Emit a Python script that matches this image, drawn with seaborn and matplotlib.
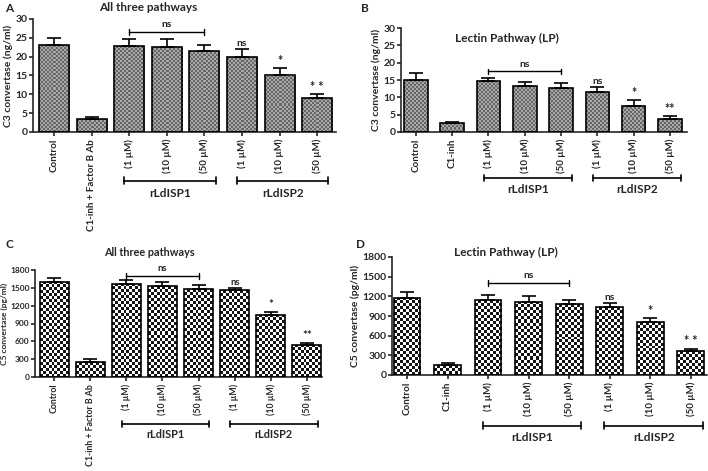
import numpy as np
import pandas as pd
import matplotlib
matplotlib.use("Agg")
import matplotlib.pyplot as plt
import seaborn as sns
from matplotlib.transforms import blended_transform_factory

sns.set_style("ticks")
plt.rcParams['font.family'] = ['Lato', 'DejaVu Sans']
plt.rcParams['font.weight'] = 'bold'

# ---------------- data ----------------
categories = ["Control", "C1-inh", "ISP1_1", "ISP1_10", "ISP1_50", "ISP2_1", "ISP2_10", "ISP2_50"]
labels_all = ["Control", "C1-inh + Factor B Ab", "(1 µM)", "(10 µM)", "(50 µM)", "(1 µM)", "(10 µM)", "(50 µM)"]
labels_lp = ["Control", "C1-inh", "(1 µM)", "(10 µM)", "(50 µM)", "(1 µM)", "(10 µM)", "(50 µM)"]
groups = ["rLdISP1", "rLdISP2"]
group_members = [[2, 3, 4], [5, 6, 7]]

a_mean = [23.0, 3.5, 22.8, 22.6, 21.6, 20.0, 15.0, 9.0]
a_err = [2.0, 0.5, 2.0, 2.0, 1.5, 2.0, 2.0, 1.0]
b_mean = [15.0, 2.5, 14.7, 13.3, 12.6, 11.5, 7.6, 3.8]
b_err = [2.0, 0.5, 1.0, 1.2, 1.5, 1.5, 1.5, 0.7]
c_mean = [1600, 250, 1570, 1530, 1480, 1460, 1050, 540]
c_err = [60, 50, 60, 60, 60, 40, 50, 40]
d_mean = [1180, 160, 1140, 1115, 1080, 1030, 805, 365]
d_err = [80, 30, 80, 85, 70, 70, 60, 35]

sig_a = ["", "", "", "", "", "ns", "*", "* *"]
sig_b = ["", "", "", "", "", "ns", "*", "**"]
sig_c = ["", "", "", "", "", "ns", "*", "**"]
sig_d = ["", "", "", "", "", "ns", "*", "* *"]

fig = plt.figure(figsize=(7.08, 4.71), dpi=100)
W, H = 708, 471


def axes_px(left, right, top, bottom):
    return fig.add_axes([left / W, 1 - bottom / H, (right - left) / W, (bottom - top) / H])


def checker_fill(ax, cell_px, c1, c2):
    fig.canvas.draw()
    for p in list(ax.patches):
        x0, y0 = p.get_x(), p.get_y()
        x1, y1 = x0 + p.get_width(), y0 + p.get_height()
        (px0, py0), (px1, py1) = ax.transData.transform([(x0, y0), (x1, y1)])
        nx = max(1, int(round(abs(px1 - px0) / cell_px)))
        ny = max(1, int(round(abs(py1 - py0) / cell_px)))
        arr = (np.add.outer(np.arange(ny), np.arange(nx)) % 2).astype(float)
        rgb = np.where(arr[..., None] > 0, np.array(c1), np.array(c2))
        im = ax.imshow(rgb, extent=(x0, x1, y0, y1), aspect='auto',
                       interpolation='nearest', zorder=2)
        im.set_clip_path(p)
        p.set_facecolor('none')
        p.set_zorder(3)


def panel(ax, mean, err, labels, sig, ymax, ystep, ylabel, title, title_pos,
          xlim, width, bracket_y, label_y, ns_y, c1, c2, cell, unit_off, fs, yfs):
    df = pd.DataFrame({"cat": categories, "val": mean})
    sns.barplot(data=df, x="cat", y="val", order=categories, ax=ax, width=width,
                color="white", edgecolor="black", linewidth=1.2, errorbar=None)
    ax.set_xlim(*xlim)
    ax.set_ylim(0, ymax)
    checker_fill(ax, cell, c1, c2)
    ax.set_xlim(*xlim)
    ax.set_ylim(0, ymax)
    xs = np.arange(len(categories))
    ax.errorbar(xs, mean, yerr=[np.zeros(len(err)), err], fmt='none',
                ecolor='black', elinewidth=1.2, capsize=5, capthick=1.2, zorder=4)
    ax.set_yticks(np.arange(0, ymax + 1e-9, ystep))
    ax.set_xticks(xs)
    ax.set_xticklabels(labels, rotation=90, fontsize=fs, fontweight='bold')
    ax.tick_params(axis='y', labelsize=yfs, width=1.2, length=3, pad=1)
    ax.tick_params(axis='x', width=1.2, length=3, pad=2)
    for lab in ax.get_yticklabels():
        lab.set_fontweight('bold')
    ax.set_xlabel("")
    ax.set_ylabel(ylabel, fontsize=yfs, fontweight='bold', labelpad=1.5)
    for s in ['left', 'bottom']:
        ax.spines[s].set_linewidth(1.2)
    sns.despine(ax=ax)
    ax.text(title_pos[0], title_pos[1], title, transform=ax.transAxes, ha='center',
            va='center', fontsize=fs + 1.5, fontweight='bold')
    # significance
    for i, s in enumerate(sig):
        if s:
            ax.text(xs[i], mean[i] + err[i] + unit_off, s, ha='center', va='bottom',
                    fontsize=fs + (0.5 if s == "ns" else 2), fontweight='bold')
    # ns bracket over rLdISP1
    ax.plot([xs[2], xs[4]], [ns_y, ns_y], color='black', lw=1.0, clip_on=False)
    tick = ymax * 0.025
    for xx in (xs[2], xs[4]):
        ax.plot([xx, xx], [ns_y - tick, ns_y + tick], color='black', lw=1.0, clip_on=False)
    ax.text((xs[2] + xs[4]) / 2, ns_y + tick, "ns", ha='center', va='bottom',
            fontsize=fs + 0.5, fontweight='bold')
    # group brackets
    tr = blended_transform_factory(ax.transData, ax.transAxes)
    for g, mem in zip(groups, group_members):
        xa, xb = xs[mem[0]] - 0.13, xs[mem[-1]] + 0.3
        ax.plot([xa, xb], [bracket_y, bracket_y], color='black', lw=1.2,
                transform=tr, clip_on=False)
        for xx in (xa, xb):
            ax.plot([xx, xx], [bracket_y - 0.03, bracket_y + 0.03], color='black',
                    lw=1.2, transform=tr, clip_on=False)
        ax.text((xa + xb) / 2, label_y, g, transform=tr, ha='center', va='center',
                fontsize=fs + 1.5, fontweight='bold')


gray1, gray2 = (0.40, 0.40, 0.40), (0.66, 0.66, 0.66)
blk, wht = (0.08, 0.08, 0.08), (1.0, 1.0, 1.0)

axA = axes_px(33, 336, 19, 132)
panel(axA, a_mean, a_err, labels_all, sig_a, 30, 5, "C3 convertase (ng/ml)",
      "All three pathways", (0.38, 1.1), (-0.56, 7.5), 0.8, -0.43, -0.54, 26.5,
      gray1, gray2, 2.0, 0.3, 7, 7.5)

axB = axes_px(401, 687, 28, 132)
panel(axB, b_mean, b_err, labels_lp, sig_b, 30, 5, "C3 convertase (ng/ml)",
      "Lectin Pathway (LP)", (0.37, 0.9), (-0.41, 7.47), 0.65, -0.44, -0.55, 17.5,
      gray1, gray2, 2.0, 0.3, 7, 7.5)

axC = axes_px(35, 322, 270, 377)
panel(axC, c_mean, c_err, labels_all, sig_c, 1800, 300, "C5 convertase (pg/ml)",
      "All three pathways", (0.4, 1.16), (-0.53, 7.42), 0.8, -0.44, -0.54, 1700,
      blk, wht, 3.0, 20, 6.3, 6.0)

axD = axes_px(392, 707, 257, 375)
panel(axD, d_mean, d_err, labels_lp, sig_d, 1800, 300, "C5 convertase (pg/ml)",
      "Lectin Pathway (LP)", (0.36, 1.04), (-0.37, 7.4), 0.66, -0.43, -0.53, 1400,
      blk, wht, 3.0, 20, 7, 7.5)

for lbl, (x, y) in zip("ABCD", [(5, 8), (361, 8), (5, 245), (356, 245)]):
    fig.text(x / W, 1 - y / H, lbl, fontsize=8.5, fontweight='bold', ha='left', va='center')

fig.savefig("out.png", dpi=100)
